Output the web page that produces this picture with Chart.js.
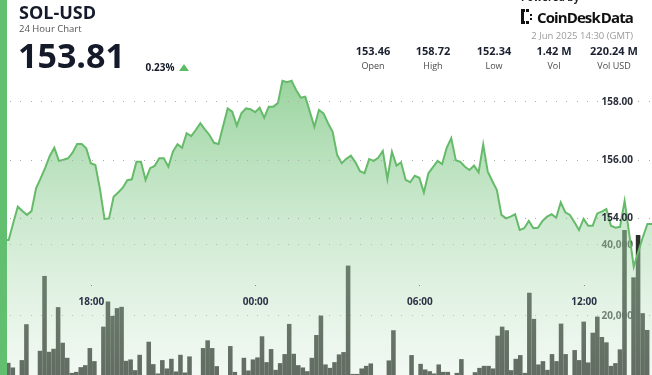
<!DOCTYPE html>
<html>
<head>
<meta charset="utf-8">
<script src="https://cdn.jsdelivr.net/npm/chart.js@4.4.1/dist/chart.umd.min.js"></script>
<style>
body{margin:0;width:652px;height:375px;overflow:hidden;background:#fff;position:relative;font-family:"Open Sans",sans-serif;color:#141a29}
#wrap{position:absolute;left:-5px;top:0;width:657px;height:375px}
.t{position:absolute;line-height:1;white-space:nowrap}
#strip{position:absolute;left:0;top:0;width:7px;height:375px;background:#62bf70}
.col{position:absolute;width:70px;text-align:center}
.val{top:45px;font-size:11px;font-weight:700;color:#1a2030}
.lab{top:61.3px;font-size:9px;color:#4a4a4a}
#tri{position:absolute;left:179px;top:64px;width:0;height:0;border-left:5px solid transparent;border-right:5px solid transparent;border-bottom:7px solid #5dbb63}
</style>
</head>
<body>
<div id="wrap"><canvas id="chart" width="657" height="375"></canvas></div>
<div id="strip"></div>
<div class="t" style="left:19px;top:3px;font-size:18px;font-weight:700">SOL-USD</div>
<div class="t" style="left:19px;top:23.6px;font-size:9.5px;color:#555">24 Hour Chart</div>
<div class="t" style="left:18px;top:38px;font-size:34px;font-weight:700">153.81</div>
<div class="t" style="left:145.5px;top:61.8px;font-size:10px;font-weight:700">0.23%</div>
<div id="tri"></div>

<div class="t" style="left:521px;top:-8.5px;font-size:10px;font-weight:700;color:#222">Powered by</div>
<svg style="position:absolute;left:521px;top:9px" width="13" height="15">
<rect x="0" y="0" width="4" height="3" fill="#111"/><rect x="5" y="0" width="3" height="3" fill="#111"/>
<rect x="0" y="3" width="3" height="9" fill="#111"/>
<rect x="0" y="12" width="4" height="3" fill="#111"/><rect x="5" y="12" width="3" height="3" fill="#111"/>
<rect x="9" y="5" width="2" height="2" fill="#111"/><rect x="9" y="9" width="2" height="2" fill="#111"/>
</svg>
<div class="t" style="left:537px;top:10px;font-size:15px;font-weight:700;letter-spacing:-0.9px;color:#111">CoinDesk<span style="margin-left:1px">Data</span></div>
<div class="t" style="right:19px;top:30.9px;font-size:9.5px;color:#9b9b9b">2 Jun 2025 14:30 (GMT)</div>

<div class="t col val" style="left:338px">153.46</div>
<div class="t col lab" style="left:338px">Open</div>
<div class="t col val" style="left:398px">158.72</div>
<div class="t col lab" style="left:398px">High</div>
<div class="t col val" style="left:459px">152.34</div>
<div class="t col lab" style="left:459px">Low</div>
<div class="t col val" style="left:519px">1.42 M</div>
<div class="t col lab" style="left:519px">Vol</div>
<div class="t col val" style="left:579px">220.24 M</div>
<div class="t col lab" style="left:579px">Vol USD</div>

<script>
var timeLabels = [];
for (var i = 0; i < 145; i++) {
	var m = (14 * 60 + 30 + i * 10) % 1440;
	timeLabels.push(('0' + Math.floor(m / 60)).slice(-2) + ':' + ('0' + (m % 60)).slice(-2));
}
var timeTicks = ['18:00', '00:00', '06:00', '12:00'];
var priceTicks = [154, 156, 158];
var volumeTicks = [20000, 40000];

var prices = [153.22,153.29,153.26,153.26,153.84,154.40,154.25,154.12,154.25,155.03,
	155.37,155.73,156.14,156.42,155.97,156.01,156.06,156.25,156.55,156.55,
	156.40,155.89,155.83,155.01,153.98,154.00,154.74,154.89,155.05,155.31,
	155.34,155.94,155.94,155.32,155.72,155.80,156.06,156.06,155.77,156.29,
	156.54,156.42,156.92,156.82,157.03,157.26,157.05,156.86,156.59,156.55,
	157.17,157.77,157.66,157.18,157.60,157.77,157.74,157.64,157.79,157.45,
	157.83,157.83,157.95,158.72,158.67,158.72,158.40,158.14,158.17,157.66,
	157.14,157.72,157.60,157.26,156.97,156.17,155.89,156.04,156.15,155.92,
	155.62,155.55,156.03,155.97,156.08,156.31,155.35,156.29,155.81,155.92,
	155.32,155.24,155.46,155.39,154.89,155.55,155.76,155.97,155.86,156.42,
	156.75,155.99,155.94,155.77,155.66,155.81,155.58,156.54,155.60,155.28,
	154.97,154.12,154.00,154.06,154.14,153.60,153.66,153.91,153.66,153.68,
	153.91,154.06,154.14,154.02,154.55,154.21,154.12,153.87,153.60,153.98,
	153.75,153.75,154.17,154.23,154.32,153.75,153.68,153.71,154.60,153.48,
	152.34,152.86,153.36,153.81,153.81];

var volumes = [3000,3000,6705,5403,2000,7469,17568,2000,2000,10100,
	31147,9817,10665,22377,12363,8119,3876,4159,5488,6054,
	10863,7186,2000,16889,23962,19916,22094,22462,7271,7667,
	4640,8968,2000,12646,6337,3706,7469,5120,7836,4272,
	8968,3989,8515,2000,2000,10863,13042,10863,5771,2000,
	2000,11429,4159,2000,8119,4555,7667,8232,14173,6903,
	10580,4724,6620,9166,17653,9251,6054,5403,4357,8119,
	14541,20001,6252,5290,6903,9081,9732,34061,3593,3593,
	5120,5856,6535,2000,2000,2000,7384,15871,2000,2000,
	2000,8883,2000,6422,4838,4357,3706,6252,4159,4159,
	2000,3876,7751,2000,2000,4074,5290,5856,5856,5120,
	14343,16889,15871,4640,7836,8883,3876,26423,19067,6252,
	7186,4724,9166,7186,17738,9166,2000,10298,7469,18304,
	6818,15192,19718,13975,12476,5856,6620,10496,44048,2000,
	30751,42633,20680,15956,2000];

function dotRow(ctx, area, y) {
	for (var x = 4.7; x < area.right; x += 10.3) {
		ctx.fillRect(Math.round(x), Math.floor(y), 1, 1);
	}
}

var axisText = {
	id: 'axisText',
	beforeDatasetsDraw: function(chart) {
		var ctx = chart.ctx, area = chart.chartArea, yv = chart.scales.yv;
		ctx.save();
		ctx.font = 'bold 10px "Open Sans"';
		ctx.textAlign = 'right';
		ctx.textBaseline = 'middle';
		yv.ticks.forEach(function(t) {
			var y = yv.getPixelForValue(t.value);
			ctx.fillStyle = '#b4b4b4';
			dotRow(ctx, area, y);
			ctx.fillStyle = '#3a3f3a';
			ctx.fillText(t.value.toLocaleString('en-US'), area.right - 19, y);
		});
		ctx.restore();
	},
	afterDatasetsDraw: function(chart) {
		var ctx = chart.ctx, area = chart.chartArea, y = chart.scales.y, x = chart.scales.x;
		ctx.save();
		ctx.font = 'bold 10px "Open Sans"';
		ctx.textAlign = 'right';
		ctx.textBaseline = 'middle';
		y.ticks.forEach(function(t) {
			var py = y.getPixelForValue(t.value);
			ctx.fillStyle = '#aaaaaa';
			dotRow(ctx, area, py);
			ctx.fillStyle = '#2a2f3a';
			ctx.fillText(t.value.toFixed(2), area.right - 19, py);
		});
		ctx.textAlign = 'center';
		ctx.textBaseline = 'alphabetic';
		timeTicks.forEach(function(lbl) {
			var px = x.getPixelForValue(timeLabels.indexOf(lbl));
			ctx.fillStyle = '#888';
			ctx.fillRect(Math.round(px), 285, 1, 1);
			ctx.fillStyle = '#2b3245';
			ctx.fillText(lbl, px + 0.5, 305);
		});
		ctx.restore();
	}
};

var ctx = document.getElementById('chart').getContext('2d');
var chart = new Chart(ctx, {
	type : 'bar',
	data : {
		labels : timeLabels,
		datasets : [ {
			type : 'line',
			label : 'Price',
			data : prices,
			xAxisID : 'x',
			yAxisID : 'y',
			borderColor : '#66bb6a',
			borderWidth : 2,
			pointRadius : 0,
			tension : 0,
			fill : 'start',
			backgroundColor : function(c) {
				var a = c.chart.chartArea;
				if (!a) return 'rgba(102,187,106,0.4)';
				var g = c.chart.ctx.createLinearGradient(0, 80, 0, a.bottom);
				g.addColorStop(0, 'rgba(112,194,119,0.7)');
				g.addColorStop(1, 'rgba(212,235,215,0.32)');
				return g;
			},
			order : 0
		}, {
			type : 'bar',
			label : 'Volume',
			data : volumes,
			xAxisID : 'xb',
			yAxisID : 'yv',
			backgroundColor : '#2c302b',
			borderWidth : 0,
			barThickness : 3.9,
			order : 1
		} ]
	},
	options : {
		responsive : false,
		animation : false,
		devicePixelRatio : 1,
		layout : { padding : 0 },
		plugins : {
			legend : { display : false },
			tooltip : { enabled : false }
		},
		scales : {
			x : { type : 'category', display : false, offset : false },
			xb : { type : 'category', display : false, offset : true },
			y : {
				display : false, min : 148.631, max : 161.486,
				afterBuildTicks : function(s) { s.ticks = priceTicks.map(function(v) { return { value : v }; }); }
			},
			yv : {
				display : false, min : 3376, max : 108862,
				afterBuildTicks : function(s) { s.ticks = volumeTicks.map(function(v) { return { value : v }; }); }
			}
		}
	},
	plugins : [ axisText ]
});
</script>
</body>
</html>
